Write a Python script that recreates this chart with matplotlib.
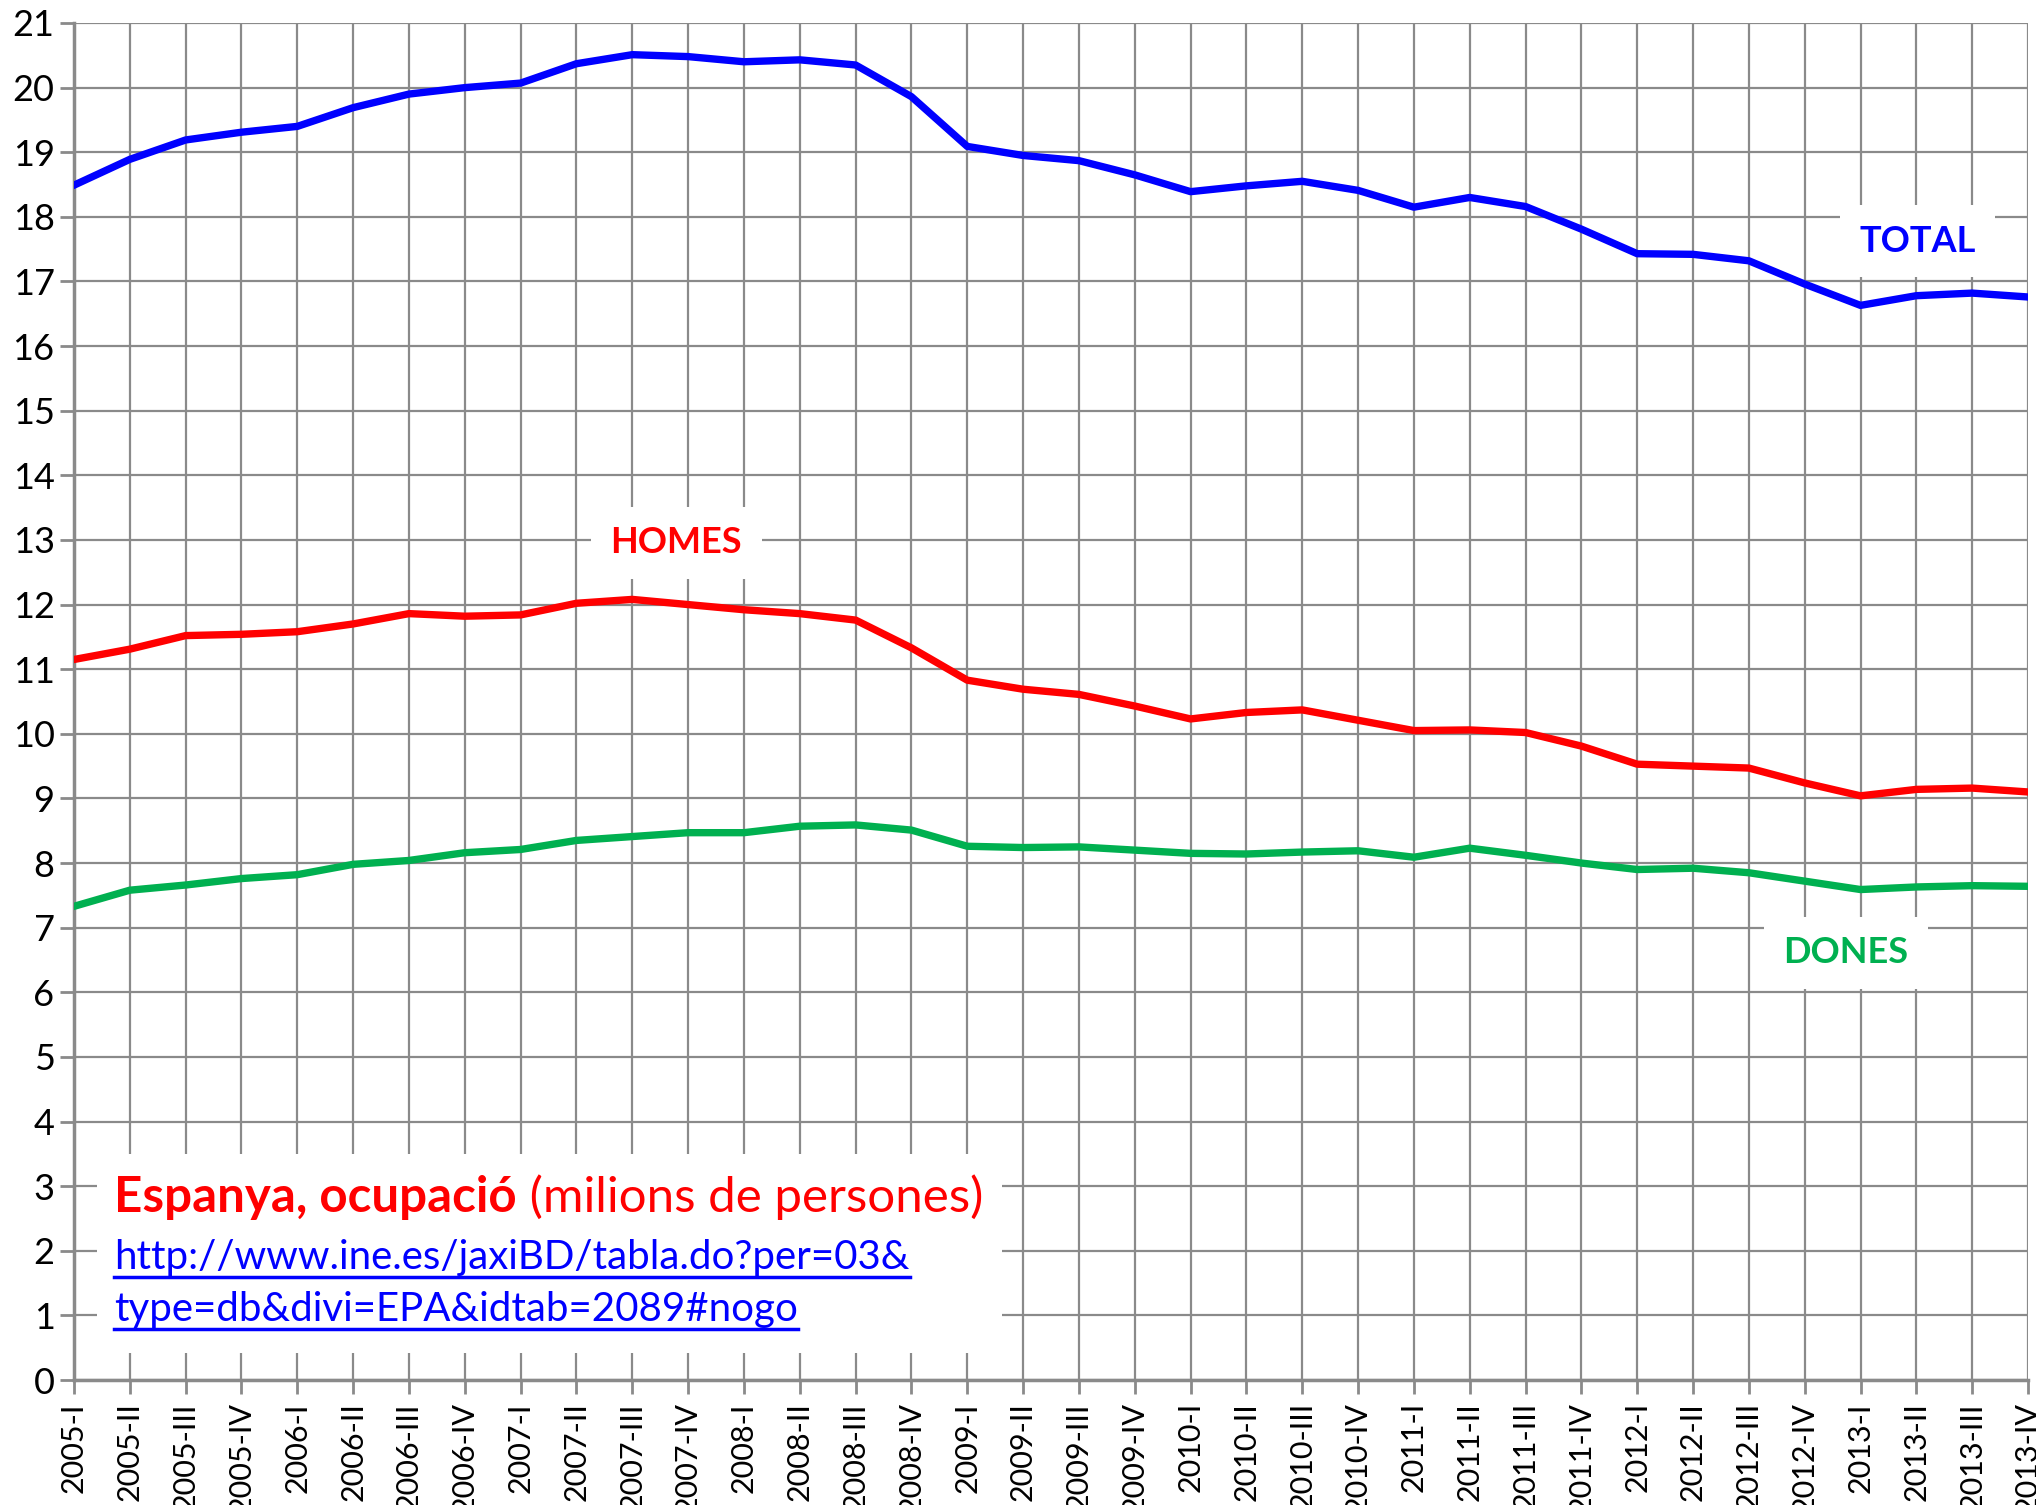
import matplotlib
matplotlib.use("Agg")
import matplotlib.pyplot as plt
from matplotlib.lines import Line2D

plt.rcParams['font.family'] = ['Lato', 'DejaVu Sans']

quarters = [f"{y}-{q}" for y in range(2005, 2014) for q in ["I", "II", "III", "IV"]]

total = [18.49, 18.89, 19.19, 19.31, 19.40, 19.69, 19.90, 20.00,
         20.07, 20.37, 20.51, 20.48, 20.40, 20.43, 20.35, 19.86,
         19.09, 18.95, 18.87, 18.65, 18.39, 18.48, 18.55, 18.41,
         18.15, 18.30, 18.16, 17.81, 17.43, 17.42, 17.32, 16.96,
         16.63, 16.78, 16.82, 16.76]

homes = [11.15, 11.31, 11.52, 11.54, 11.58, 11.70, 11.86, 11.82,
         11.84, 12.02, 12.08, 12.00, 11.92, 11.86, 11.76, 11.33,
         10.83, 10.69, 10.61, 10.43, 10.23, 10.33, 10.37, 10.21,
         10.05, 10.06, 10.02, 9.81, 9.53, 9.50, 9.47, 9.24,
         9.04, 9.14, 9.16, 9.10]

dones = [7.33, 7.58, 7.66, 7.76, 7.82, 7.98, 8.04, 8.16,
         8.21, 8.35, 8.41, 8.47, 8.47, 8.57, 8.59, 8.51,
         8.26, 8.24, 8.25, 8.20, 8.15, 8.14, 8.17, 8.19,
         8.09, 8.23, 8.12, 8.00, 7.90, 7.92, 7.85, 7.72,
         7.59, 7.63, 7.65, 7.64]

yticks = list(range(0, 22))

fig = plt.figure(figsize=(20.36, 15.05), dpi=100)
ax = fig.add_axes([74/2036, 1 - 1380/1505, (2028-74)/2036, (1380-23)/1505])

x = list(range(len(quarters)))
grid_c = '#8a8a8a'

ax.set_xlim(0, len(quarters) - 1)
ax.set_ylim(0, 21)
ax.set_xticks(x)
ax.set_xticklabels(quarters, rotation=90, fontsize=22, va='top')
ax.set_yticks(yticks)
ax.set_yticklabels([str(v) for v in yticks], fontsize=26)
ax.tick_params(axis='both', color=grid_c, width=2, length=10, pad=4)
ax.tick_params(axis='x', pad=6)
ax.grid(True, color=grid_c, linewidth=1.6, zorder=0)
ax.set_axisbelow(True)
for s in ['top', 'right']:
    ax.spines[s].set_visible(False)
for s in ['left', 'bottom']:
    ax.spines[s].set_color(grid_c)
    ax.spines[s].set_linewidth(2.5)

ax.plot(x, total, color='#0000FF', lw=5.3, zorder=3)
ax.plot(x, homes, color='#FF0000', lw=5.3, zorder=3)
ax.plot(x, dones, color='#00B050', lw=5.3, zorder=3)

# white box behind source text
ax.add_patch(plt.Rectangle((0.42, 0.42), 16.2, 3.08, facecolor='white',
                           edgecolor='none', zorder=2))

lab_kw = dict(ha='center', va='center', fontsize=26, fontweight='bold', zorder=4)
ax.text(10.79, 12.96, 'HOMES', color='#FF0000',
        bbox=dict(facecolor='white', edgecolor='none', pad=14), **lab_kw)
ax.text(33.02, 17.62, 'TOTAL', color='#0000FF',
        bbox=dict(facecolor='white', edgecolor='none', pad=14), **lab_kw)
ax.text(31.74, 6.61, 'DONES', color='#00B050',
        bbox=dict(facecolor='white', edgecolor='none', pad=14), **lab_kw)

t1 = ax.text(0.72, 2.6, 'Espanya, ocupació', color='#FF0000', fontsize=35.5,
             fontweight='bold', va='baseline', ha='left', zorder=5)
l1 = ax.text(0.72, 1.72, 'http://www.ine.es/jaxiBD/tabla.do?per=03&', color='#0000FF',
             fontsize=29, va='baseline', ha='left', zorder=5)
l2 = ax.text(0.72, 0.92, 'type=db&divi=EPA&idtab=2089#nogo', color='#0000FF',
             fontsize=29, va='baseline', ha='left', zorder=5)

fig.canvas.draw()
r = fig.canvas.get_renderer()
bb = t1.get_window_extent(r)
xd = ax.transData.inverted().transform((bb.x1, 0))[0]
ax.text(xd, 2.6, ' (milions de persones)', color='#FF0000', fontsize=35.5,
        va='baseline', ha='left', zorder=5)

inv = fig.transFigure.inverted()
for t, yb in [(l1, 1.72), (l2, 0.92)]:
    b = t.get_window_extent(r)
    ybase = ax.transData.transform((0, yb))[1] - 8
    p0 = inv.transform((b.x0, ybase))
    p1 = inv.transform((b.x1, ybase))
    fig.add_artist(Line2D([p0[0], p1[0]], [p0[1], p1[1]], color='#0000FF', lw=2.5))

fig.savefig('out.png', dpi=100, facecolor='white')
